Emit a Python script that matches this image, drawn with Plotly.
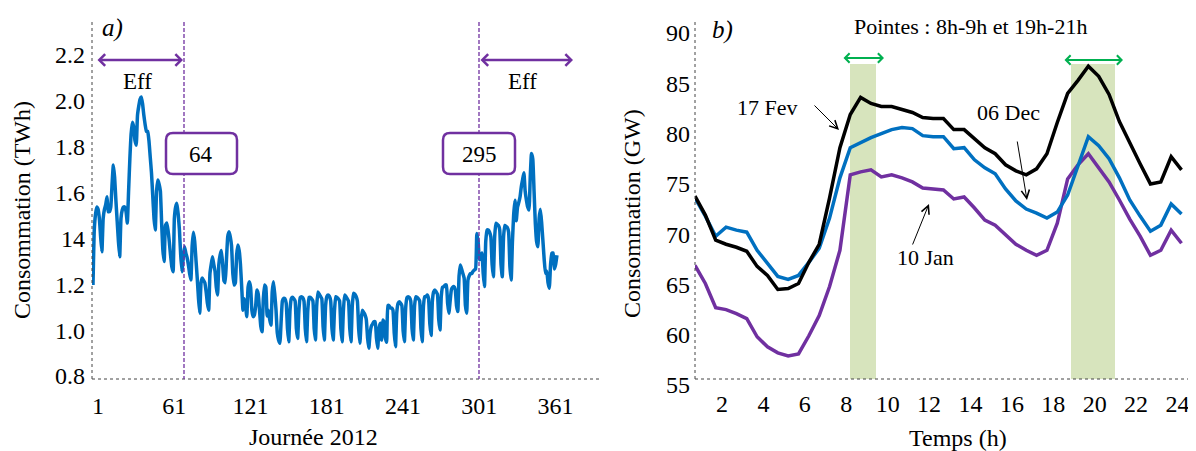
import plotly.graph_objects as go

# ---------------- DATA ----------------
# a) daily consumption 2012 (TWh), day 1 = Sun 1 Jan 2012
conso_2012 = [
    1.21, 1.45, 1.52, 1.55, 1.54, 1.50, 1.42, 1.355,
    1.50, 1.54, 1.56, 1.595, 1.53, 1.53, 1.55,
    1.65, 1.733, 1.68, 1.58, 1.49, 1.40, 1.333,
    1.50, 1.537, 1.55, 1.55, 1.53, 1.48, 1.62,
    1.76, 1.87, 1.92, 1.90, 1.84, 1.82, 1.95,
    1.99, 2.02, 2.03, 2.00, 1.95, 1.91, 1.88,
    1.88, 1.84, 1.77, 1.70, 1.60, 1.50, 1.45,
    1.62, 1.668, 1.65, 1.62, 1.48, 1.36, 1.312,
    1.47, 1.48, 1.45, 1.40, 1.34, 1.29, 1.268,
    1.50, 1.55, 1.566, 1.52, 1.45, 1.34, 1.268,
    1.33, 1.377, 1.35, 1.33, 1.30, 1.26, 1.232,
    1.38, 1.44, 1.40, 1.32, 1.24, 1.15, 1.087,
    1.22, 1.24, 1.23, 1.22, 1.18, 1.13, 1.10,
    1.26, 1.30, 1.333, 1.30, 1.27, 1.20, 1.166,
    1.30, 1.34, 1.36, 1.30, 1.23, 1.22, 1.32,
    1.42, 1.442, 1.42, 1.38, 1.26, 1.21, 1.22,
    1.34, 1.384, 1.36, 1.30, 1.20, 1.10, 1.15,
    1.12, 1.072, 1.20, 1.224, 1.20, 1.10, 1.072,
    1.08, 1.12, 1.188, 1.17, 1.10, 1.03, 1.006,
    1.15, 1.21, 1.20, 1.075, 1.10, 1.06, 1.035,
    1.18, 1.224, 1.17, 1.10, 1.00, 0.97, 0.956,
    1.05, 1.14, 1.152, 1.15, 1.13, 1.02, 0.963,
    1.10, 1.15, 1.156, 1.15, 1.14, 1.02, 0.977,
    1.10, 1.155, 1.159, 1.155, 1.14, 1.02, 0.963,
    1.10, 1.156, 1.156, 1.15, 1.14, 1.02, 0.97,
    1.12, 1.18, 1.17, 1.16, 1.15, 1.03, 0.97,
    1.12, 1.16, 1.166, 1.16, 1.14, 1.02, 0.97,
    1.10, 1.159, 1.155, 1.15, 1.14, 1.02, 0.963,
    1.10, 1.166, 1.16, 1.15, 1.14, 1.02, 0.963,
    1.12, 1.174, 1.17, 1.16, 1.14, 1.02, 0.956,
    1.06, 1.10, 1.09, 1.08, 1.06, 0.98, 0.934,
    1.00, 1.03, 1.04, 1.05, 1.05, 0.98, 0.934,
    1.02, 1.043, 0.97, 1.057, 1.05, 0.98, 0.96,
    1.12, 1.12, 1.11, 1.11, 1.10, 1.00, 0.941,
    1.09, 1.13, 1.137, 1.13, 1.12, 1.01, 0.963,
    1.11, 1.155, 1.159, 1.155, 1.14, 1.02, 0.97,
    1.12, 1.159, 1.156, 1.15, 1.14, 1.02, 0.963,
    1.12, 1.159, 1.16, 1.166, 1.15, 1.04, 0.99,
    1.14, 1.18, 1.188, 1.18, 1.17, 1.06, 1.014,
    1.16, 1.20, 1.203, 1.21, 1.21, 1.13, 1.087,
    1.14, 1.19, 1.20, 1.203, 1.19, 1.12, 1.094,
    1.25, 1.297, 1.28, 1.26, 1.24, 1.12, 1.087,
    1.232, 1.25, 1.26, 1.26, 1.27, 1.275, 1.28,
    1.435, 1.40, 1.32, 1.33, 1.35, 1.26, 1.203,
    1.40, 1.45, 1.45, 1.44, 1.42, 1.30, 1.246,
    1.42, 1.479, 1.475, 1.47, 1.45, 1.30, 1.246,
    1.42, 1.47, 1.465, 1.46, 1.44, 1.29, 1.232,
    1.40, 1.52, 1.58, 1.49, 1.55, 1.57, 1.595,
    1.64, 1.67, 1.70, 1.62, 1.58, 1.55, 1.537,
    1.68, 1.784, 1.76, 1.62, 1.48, 1.40, 1.377,
    1.50, 1.54, 1.48, 1.40, 1.32, 1.261, 1.27,
    1.22, 1.196, 1.30, 1.348, 1.35, 1.28, 1.30, 1.34,
]
jours = list(range(1, len(conso_2012) + 1))
x_ticks_a = [1, 61, 121, 181, 241, 301, 361]
y_ticks_a = [0.8, 1.0, 1.2, 1.4, 1.6, 1.8, 2.0, 2.2]
y_text_a = ["0.8", "1.0", "1.2", "14", "1.6", "1.8", "2.0", "2.2"]
saison_labels = ["64", "295"]

# b) half-hourly load curves (GW)
heures = [i / 2 for i in range(1, 49)]
fev_17 = [73.2, 71.3, 68.8, 68.4, 68.1, 67.7, 66.2, 65.3, 63.9, 64.0, 64.5, 66.6,
          68.4, 73.0, 78.0, 81.3, 83.0, 82.4, 82.1, 82.1, 81.8, 81.5, 81.0, 80.9,
          80.9, 79.8, 79.8, 78.9, 78.0, 77.4, 76.3, 75.7, 75.3, 75.9, 77.4, 80.5,
          83.4, 84.7, 86.1, 85.1, 83.3, 80.6, 78.4, 76.4, 74.4, 74.6, 77.1, 75.8]
dec_06 = [73.0, 71.2, 69.2, 70.1, 69.8, 69.6, 67.8, 66.5, 65.2, 64.9, 65.3, 66.6,
          68.0, 71.0, 75.0, 78.0, 78.5, 79.0, 79.4, 79.8, 80.0, 79.9, 79.2, 79.1,
          79.1, 77.9, 78.0, 76.8, 76.0, 75.4, 73.9, 72.7, 71.9, 71.5, 71.0, 71.6,
          73.3, 76.1, 79.1, 78.2, 76.9, 75.0, 72.8, 71.2, 69.7, 70.3, 72.4, 71.4]
jan_10 = [66.3, 64.5, 62.1, 61.9, 61.5, 61.0, 59.2, 58.2, 57.6, 57.3, 57.5, 59.3,
          61.3, 64.2, 67.8, 75.3, 75.6, 75.8, 75.1, 75.3, 75.0, 74.6, 74.0, 73.9,
          73.8, 72.9, 73.1, 72.0, 70.8, 70.3, 69.3, 68.4, 67.8, 67.3, 67.8, 70.5,
          74.9, 76.3, 77.4, 76.0, 74.6, 72.8, 70.9, 69.2, 67.3, 67.8, 69.8, 68.5]
x_ticks_b = list(range(2, 25, 2))
y_ticks_b = [55, 60, 65, 70, 75, 80, 85, 90]

# ---------------- FIGURE ----------------
W, H = 1196, 451
OFF = 8  # page body margin compensation


def X(px):
    return (px - OFF) / W


def Y(py):
    return 1 - (py - OFF) / H


FONT = "Liberation Serif, Times New Roman, serif"
BLUE, PURPLE, GREEN_A, BAND = "#0070C0", "#7030A0", "#00B050", "#D7E4BD"

fig = go.Figure()
fig.add_trace(go.Scatter(x=jours, y=conso_2012, mode="lines",
                         line=dict(color=BLUE, width=3.5, shape="spline", smoothing=0.4),
                         xaxis="x", yaxis="y", showlegend=False))
fig.add_trace(go.Scatter(x=heures, y=jan_10, mode="lines", line=dict(color=PURPLE, width=3.5),
                         xaxis="x2", yaxis="y2", showlegend=False))
fig.add_trace(go.Scatter(x=heures, y=dec_06, mode="lines", line=dict(color=BLUE, width=3.5),
                         xaxis="x2", yaxis="y2", showlegend=False))
fig.add_trace(go.Scatter(x=heures, y=fev_17, mode="lines", line=dict(color="black", width=3.5),
                         xaxis="x2", yaxis="y2", showlegend=False))

tickfont = dict(family=FONT, size=24, color="black")
ydom = [Y(379), Y(22)]
common = dict(showgrid=False, zeroline=False, showline=False, ticks="", tickfont=tickfont,
              automargin=False)
fig.update_layout(
    width=W, height=H, margin=dict(l=0, r=0, t=0, b=0, autoexpand=False),
    paper_bgcolor="white", plot_bgcolor="white", showlegend=False,
    xaxis=dict(domain=[X(92), X(599)], range=[0.21, 399.1], tickvals=x_ticks_a,
               ticklabelstandoff=10, ticklabelshift=5, anchor="y", **common),
    yaxis=dict(domain=ydom, range=[0.8, 2.357], tickvals=y_ticks_a, ticktext=y_text_a,
               ticklabelstandoff=6, ticklabelshift=-3, anchor="x", **common),
    xaxis2=dict(domain=[X(695), X(1196)], range=[0.5, 24.7], tickvals=x_ticks_b,
                ticklabelstandoff=8, ticklabelshift=-4, anchor="y2", **common),
    yaxis2=dict(domain=ydom, range=[55, 90.5], tickvals=y_ticks_b,
                ticklabelstandoff=4, ticklabelshift=6, anchor="x2", **common),
)

shapes = []
dot = dict(color="#444444", width=1, dash="dot")
shapes += [
    dict(type="line", xref="paper", yref="paper", x0=X(92), x1=X(92), y0=Y(22), y1=Y(379), line=dot),
    dict(type="line", xref="paper", yref="paper", x0=X(92), x1=X(599), y0=Y(379), y1=Y(379), line=dot),
    dict(type="line", xref="paper", yref="paper", x0=X(695), x1=X(695), y0=Y(22), y1=Y(379), line=dot),
    dict(type="line", xref="paper", yref="paper", x0=X(695), x1=X(1196), y0=Y(379), y1=Y(379), line=dot),
]
for px in (184, 479):
    shapes.append(dict(type="line", xref="paper", yref="paper", x0=X(px), x1=X(px),
                       y0=Y(22), y1=Y(379), line=dict(color=PURPLE, width=1.3, dash="4px,2px")))
for (a, b) in ((850, 876), (1071, 1115)):
    shapes.append(dict(type="rect", xref="paper", yref="paper", x0=X(a), x1=X(b),
                       y0=Y(379), y1=Y(64), fillcolor=BAND, line=dict(width=0), layer="below"))


def rbox(x0, y0, x1, y1, r=7):
    a, b, c, d = X(x0), X(x1), Y(y0), Y(y1)
    rx, ry = r / W, r / H
    return (f"M{a+rx},{c} L{b-rx},{c} Q{b},{c} {b},{c-ry} L{b},{d+ry} Q{b},{d} {b-rx},{d} "
            f"L{a+rx},{d} Q{a},{d} {a},{d+ry} L{a},{c-ry} Q{a},{c} {a+rx},{c} Z")


for bx in [(166, 133, 237, 174), (443, 133, 515, 174)]:
    shapes.append(dict(type="path", xref="paper", yref="paper", path=rbox(*bx),
                       fillcolor="white", line=dict(color=PURPLE, width=2.5), layer="above"))
fig.update_layout(shapes=shapes)

ann = []


def text(px, py, s, size=22, angle=0):
    ann.append(dict(x=X(px), y=Y(py), xref="paper", yref="paper", text=s, showarrow=False,
                    xanchor="center", yanchor="middle", textangle=angle,
                    font=dict(family=FONT, size=size, color="black")))


def arrow(x_from, y_from, x_to, y_to, color, width, size, both=False, head=4):
    ann.append(dict(x=X(x_to), y=Y(y_to), xref="paper", yref="paper", text="",
                    showarrow=True, ax=x_from - x_to, ay=y_from - y_to, axref="pixel", ayref="pixel",
                    arrowhead=head, arrowsize=size, arrowwidth=width, arrowcolor=color,
                    startarrowhead=head, startarrowsize=size,
                    arrowside="end+start" if both else "end", standoff=0, startstandoff=0))


text(112, 28, "<i>a)</i>", 25)
arrow(96, 60, 183, 60, PURPLE, 2.5, 0.9, both=True)
arrow(479, 60, 573, 60, PURPLE, 2.5, 0.9, both=True)
text(137, 81, "Eff", 23)
text(522, 81, "Eff", 23)
text(201, 154, saison_labels[0], 23)
text(479, 154, saison_labels[1], 23)
text(22, 210, "Consommation (TWh)", 24, -90)
text(313, 437, "Journée 2012", 24)

text(722, 30, "<i>b)</i>", 25)
text(970, 27, "Pointes : 8h-9h et 19h-21h", 22)
arrow(842, 58, 884, 58, GREEN_A, 2, 0.9, both=True)
arrow(1063, 60, 1123, 60, GREEN_A, 2, 0.9, both=True)
text(767, 108, "17 Fev", 22)
arrow(813, 104, 839, 130, "black", 1, 1.6, head=5)
text(1008, 113, "06 Dec", 22)
arrow(1017, 140, 1027, 200, "black", 1, 1.6, head=5)
text(925, 257, "10 Jan", 22)
arrow(912, 246, 929, 204, "black", 1, 1.6, head=5)
text(632, 214, "Consommation (GW)", 24, -90)
text(958, 438, "Temps (h)", 24)

fig.update_layout(annotations=ann)
fig.write_html("out.html")
